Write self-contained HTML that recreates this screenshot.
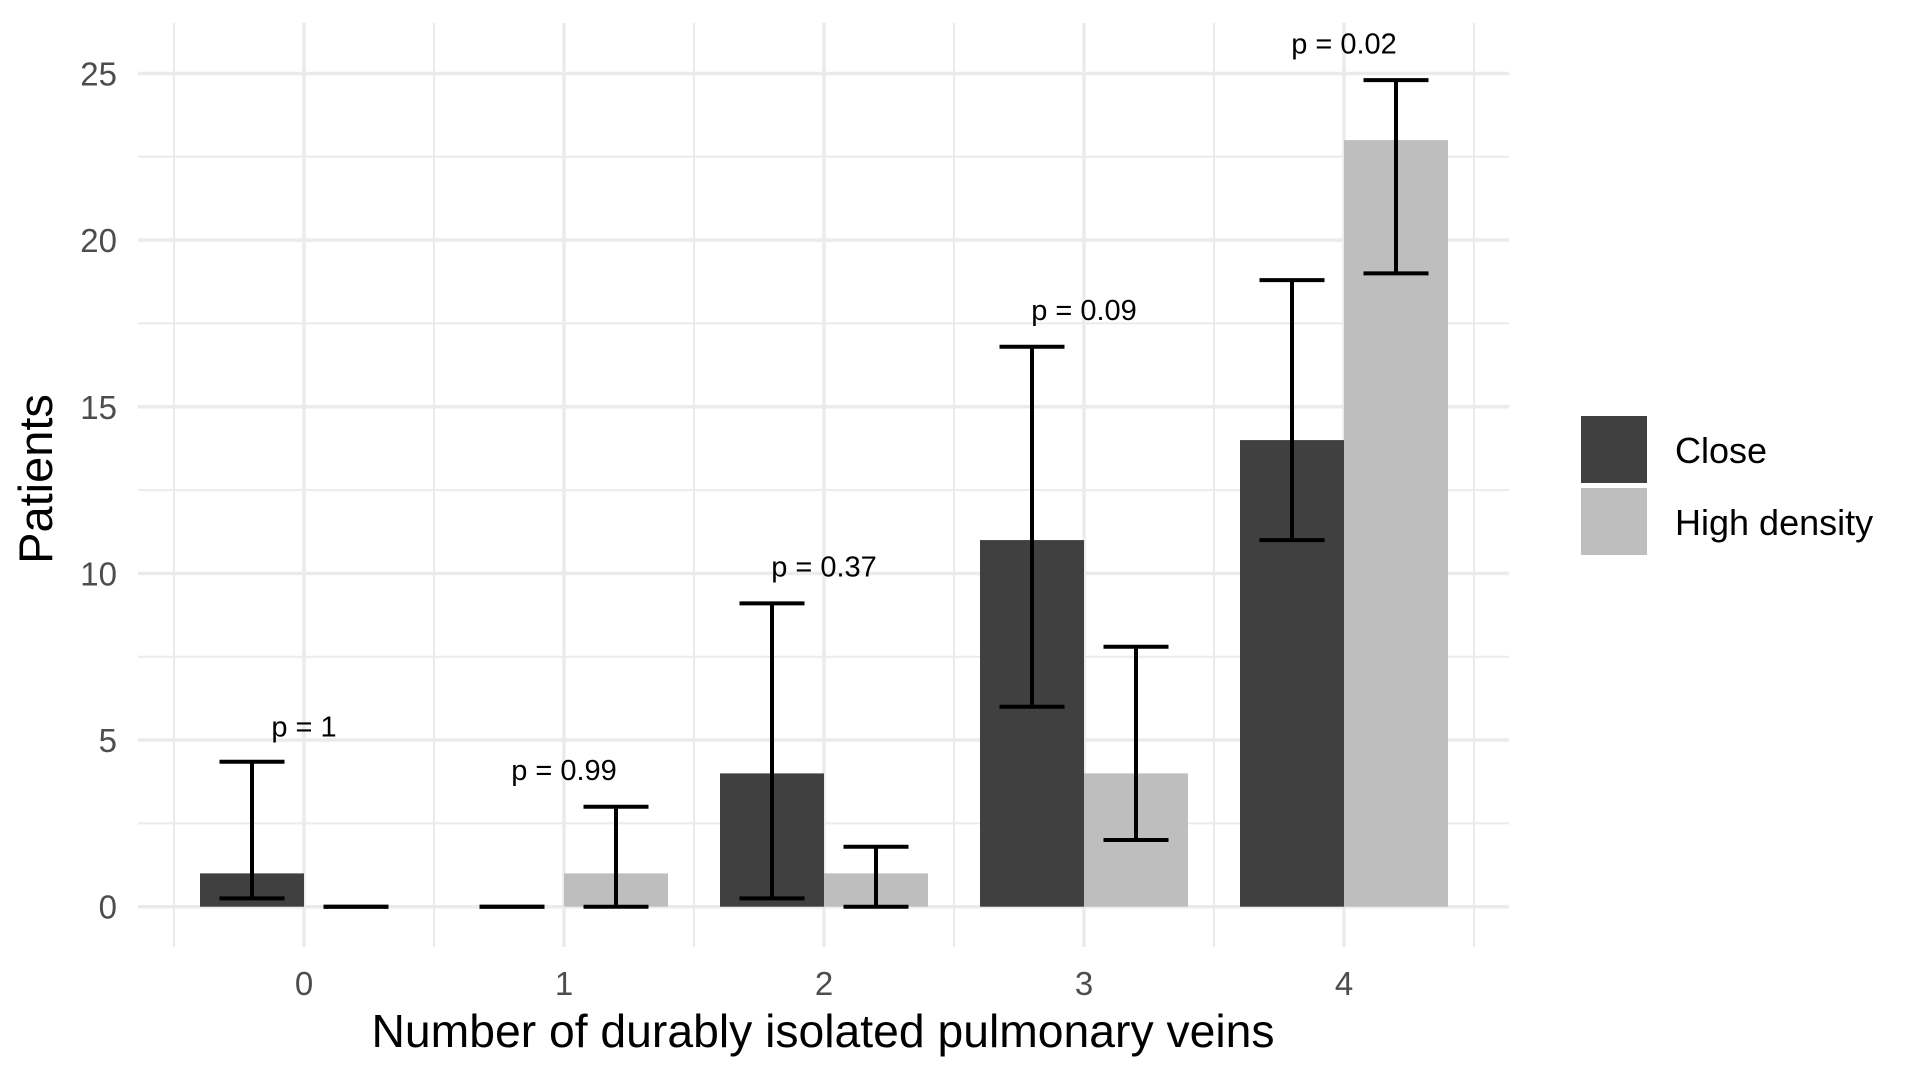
<!DOCTYPE html>
<html><head><meta charset="utf-8"><style>
html,body{margin:0;padding:0;background:#fff;}
svg{display:block;font-family:"Liberation Sans",Arial,sans-serif;}
</style></head><body>
<svg id="chart" width="1920" height="1080" viewBox="0 0 1920 1080" xmlns="http://www.w3.org/2000/svg">
<g id="grid"></g>
<g id="bars"></g>
<g id="errs"></g>
<g id="plabels"></g>
<g id="axes"></g>
<text x="823" y="1047" font-size="46" text-anchor="middle" textLength="903" lengthAdjust="spacingAndGlyphs" fill="#000">Number of durably isolated pulmonary veins</text>
<text x="0" y="0" font-size="47" text-anchor="middle" fill="#000" transform="translate(52,479) rotate(-90)">Patients</text>
<g>
<rect x="1581" y="416" width="66" height="67" fill="#404040"/>
<rect x="1581" y="488" width="66" height="67" fill="#bebebe"/>
<text x="1675" y="463" font-size="36" fill="#000">Close</text>
<text x="1675" y="535" font-size="36" fill="#000">High density</text>
</g>
</svg>
<script>
const categories = ["0","1","2","3","4"];
const closeValues = [1, 0, 4, 11, 14];
const highValues = [0, 1, 1, 4, 23];
const closeLower = [0.25, 0, 0.25, 6, 11];
const closeUpper = [4.35, 0, 9.1, 16.8, 18.8];
const highLower = [0, 0, 0, 2, 19];
const highUpper = [0, 3, 1.8, 7.8, 24.8];
const pLabels = ["p = 1","p = 0.99","p = 0.37","p = 0.09","p = 0.02"];
const pLabelY = [5.1, 3.8, 9.9, 17.6, 25.6];
const yTicks = [0, 5, 10, 15, 20, 25];

const NS = "http://www.w3.org/2000/svg";
const X0 = 304, STEP = 260, Y0 = 906.7, YU = 33.33;
const PL = 138, PR = 1509, PT = 23, PB = 947;
function xs(i){ return X0 + STEP*i; }
function ys(v){ return Y0 - YU*v; }
function mk(tag, parent, attrs){ const e=document.createElementNS(NS,tag); for(const k in attrs) e.setAttribute(k, attrs[k]); parent.appendChild(e); return e; }

const grid = document.getElementById('grid');
for(let v=2.5; v<26; v+=5){
  const l = mk('line', grid, {x1:PL,x2:PR,y1:ys(v),y2:ys(v),stroke:'#ebebeb','stroke-width':2});
  
  
}
yTicks.forEach(v=>{
  const l = mk('line', grid, {x1:PL,x2:PR,y1:ys(v),y2:ys(v),stroke:'#ebebeb','stroke-width':3.5});
  
  
});
for(let i=-0.5;i<categories.length;i+=1){
  const l = mk('line', grid, {x1:xs(i),x2:xs(i),y1:PT,y2:PB,stroke:'#ebebeb','stroke-width':2});
  
  
}
categories.forEach((c,i)=>{
  const l = mk('line', grid, {x1:xs(i),x2:xs(i),y1:PT,y2:PB,stroke:'#ebebeb','stroke-width':3.5});
  
  
});

const bars = document.getElementById('bars');
const BW = 0.4*STEP;
categories.forEach((c,i)=>{
  const b1 = mk('rect', bars, {x:xs(i)-BW, y:ys(closeValues[i]), width:BW, height:Math.max(0,ys(0)-ys(closeValues[i])), fill:'#404040'});
  
  
  const b2 = mk('rect', bars, {x:xs(i), y:ys(highValues[i]), width:BW, height:Math.max(0,ys(0)-ys(highValues[i])), fill:'#bebebe'});
  
  
});

const errs = document.getElementById('errs');
const CAP = 32.5;
function errbar(cx, lo, hi, name){
  const g = mk('g', errs, {stroke:'#000','stroke-width':4,fill:'none'});
  
  
  mk('line', g, {x1:cx,x2:cx,y1:ys(lo),y2:ys(hi)});
  mk('line', g, {x1:cx-CAP,x2:cx+CAP,y1:ys(lo),y2:ys(lo)});
  mk('line', g, {x1:cx-CAP,x2:cx+CAP,y1:ys(hi),y2:ys(hi)});
}
categories.forEach((c,i)=>{
  errbar(xs(i)-BW/2, closeLower[i], closeUpper[i], 'error-bar-close-'+c);
  errbar(xs(i)+BW/2, highLower[i], highUpper[i], 'error-bar-high-density-'+c);
});

const pl = document.getElementById('plabels');
categories.forEach((c,i)=>{
  const t = mk('text', pl, {x:xs(i), y:ys(pLabelY[i]), 'font-size':29, 'text-anchor':'middle', fill:'#000'});
  
  
  t.textContent = pLabels[i];
});

const axes = document.getElementById('axes');
yTicks.forEach(v=>{
  const t = mk('text', axes, {x:117, y:ys(v)+12, 'font-size':33, 'text-anchor':'end', fill:'#4d4d4d'});
  
  
  t.textContent = v;
});
categories.forEach((c,i)=>{
  const t = mk('text', axes, {x:xs(i), y:995, 'font-size':33, 'text-anchor':'middle', fill:'#4d4d4d'});
  
  
  t.textContent = c;
});
</script>
</body></html>
